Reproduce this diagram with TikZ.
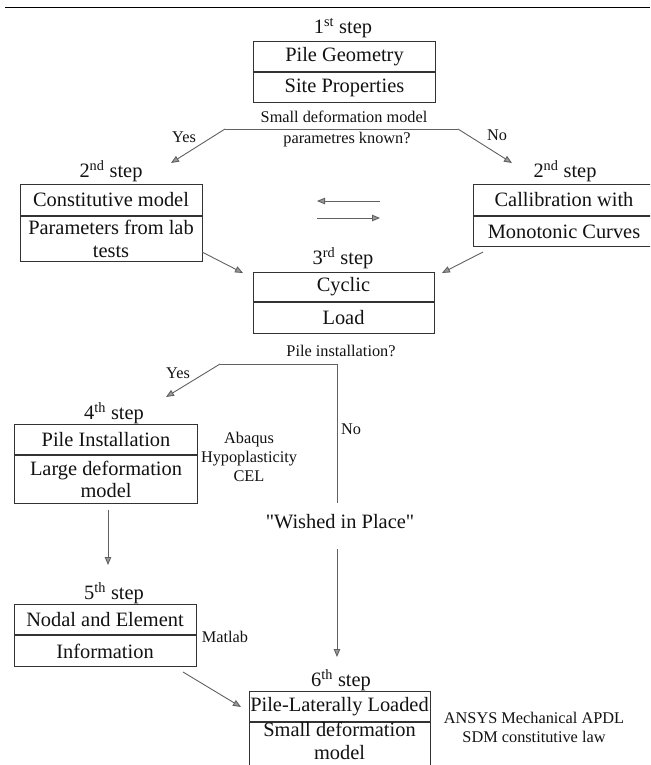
\documentclass[tikz,border=0pt]{standalone}
\usepackage{fontspec}
\setmainfont{Liberation Serif}[Ligatures=TeXOff]
\usetikzlibrary{arrows.meta}
\definecolor{boxc}{gray}{0.2}
\definecolor{connc}{gray}{0.38}
\definecolor{tipc}{gray}{0.6}
\definecolor{txtc}{gray}{0.07}
\newcommand{\mainfs}{\fontsize{20.4}{23.5}\selectfont}
\newcommand{\smallfs}{\fontsize{16.3}{19}\selectfont}
\begin{document}
\begin{tikzpicture}[x=1pt,y=-1pt,
  rowbox/.style={draw=boxc, line width=1pt, minimum width=182pt, minimum height=30pt,
    inner sep=0pt, font=\mainfs, text=txtc, align=center, anchor=north},
  lbl/.style={font=\mainfs, text=txtc, inner sep=0pt},
  note/.style={font=\smallfs, text=txtc, inner sep=0pt, align=center},
  conn/.style={draw=connc, line width=0.9pt},
  arr/.style={conn, -{Triangle[length=8pt,width=6.5pt,fill=tipc]}}]
\clip (0,0) rectangle (650,765);
\fill[white] (0,0) rectangle (650,765);
% top rule
\draw[line width=1.6pt, black] (5,7.5) -- (650,7.5);

% step 1
\node[lbl] (s1) at (343,28) {1\textsuperscript{st} step};
\node[rowbox] (b1a) at (344.5,41) {Pile Geometry};
\node[rowbox] (b1b) at (b1a.south) {Site Properties};

% question 1
\node[note] (q1a) at (344,117) {Small deformation model};
\node[note] (q1b) at (347,140) {parametres known?};
\coordinate (qL) at (225,129);
\coordinate (qR) at (458,129);
\coordinate (tL) at (171,163);
\coordinate (tR) at (512,163);
\draw[conn] (qL) -- (qR);
\draw[arr] (qL) -- (tL);
\draw[arr] (qR) -- (tR);
\node[note] (yes1) at (184,137) {Yes};
\node[note] (no1) at (497,135) {No};

% step 2 left
\node[lbl] (s2l) at (111,171) {2\textsuperscript{nd} step};
\node[rowbox, minimum height=31pt] (b2a) at (111,184) {Constitutive model};
\node[rowbox, minimum height=45pt] (b2b) at (b2a.south) {Parameters from lab\\[-1pt]tests};

% step 2 right
\node[lbl] (s2r) at (565,171) {2\textsuperscript{nd} step};
\node[rowbox, minimum height=31pt] (b2c) at (564,184) {Callibration with};
\node[rowbox, minimum height=30pt] (b2d) at (b2c.south) {Monotonic Curves};

% middle arrows
\coordinate (m1a) at (380,201);
\coordinate (m1b) at (317,201);
\coordinate (m2a) at (317,218);
\coordinate (m2b) at (380,218);
\draw[arr] (m1a) -- (m1b);
\draw[arr] (m2a) -- (m2b);

% step 3
\node[lbl] (s3) at (343,258) {3\textsuperscript{rd} step};
\node[rowbox, minimum width=181pt, minimum height=29pt] (b3a) at (343.5,272) {Cyclic};
\node[rowbox, minimum width=181pt, minimum height=31pt] (b3b) at (b3a.south) {Load};
\coordinate (d1a) at (202,252);
\coordinate (d1b) at (243,273);
\coordinate (d2a) at (483,252);
\coordinate (d2b) at (442,273);
\draw[arr] (d1a) -- (d1b);
\draw[arr] (d2a) -- (d2b);

% question 2
\node[note] (q2) at (341,351) {Pile installation?};
\coordinate (pL) at (220,364);
\coordinate (pR) at (337,364);
\coordinate (pT) at (166,397);
\coordinate (pD) at (337,503);
\draw[conn] (pL) -- (pR) -- (pD);
\draw[arr] (pL) -- (pT);
\node[note] (yes2) at (178,373) {Yes};
\node[note] (no2) at (351,429) {No};

% step 4
\node[lbl] (s4) at (114,413) {4\textsuperscript{th} step};
\node[rowbox, minimum width=182.5pt] (b4a) at (106,424) {Pile Installation};
\node[rowbox, minimum width=182.5pt, minimum height=48pt] (b4b) at (b4a.south) {Large deformation\\[-1pt]model};
\node[note] (n4) at (249,457) {Abaqus\\Hypoplasticity\\CEL};

% wished in place
\node[lbl] (wip) at (340,522) {"Wished in Place"};

% arrows down
\coordinate (a4a) at (108,510);
\coordinate (a4b) at (108,565);
\draw[arr] (a4a) -- (a4b);
\coordinate (a6a) at (337,549);
\coordinate (a6b) at (337,657);
\draw[arr] (a6a) -- (a6b);

% step 5
\node[lbl] (s5) at (114,593) {5\textsuperscript{th} step};
\node[rowbox] (b5a) at (105,604) {Nodal and Element};
\node[rowbox, minimum height=31pt] (b5b) at (b5a.south) {Information};
\node[note] (n5) at (225,637) {Matlab};
\coordinate (a5a) at (183,672);
\coordinate (a5b) at (241,707);
\draw[arr] (a5a) -- (a5b);

% step 6
\node[lbl] (s6) at (341,680) {6\textsuperscript{th} step};
\node[rowbox, minimum width=181pt] (b6a) at (339.5,691) {Pile-Laterally Loaded};
\node[rowbox, minimum width=181pt, minimum height=60pt, text depth=0pt] (b6b) at (b6a.south) {Small deformation\\[-1pt]model\\[10pt]\strut};
\node[note] (n6) at (534,727.5) {ANSYS Mechanical APDL\\SDM constitutive law};
\end{tikzpicture}
\end{document}
